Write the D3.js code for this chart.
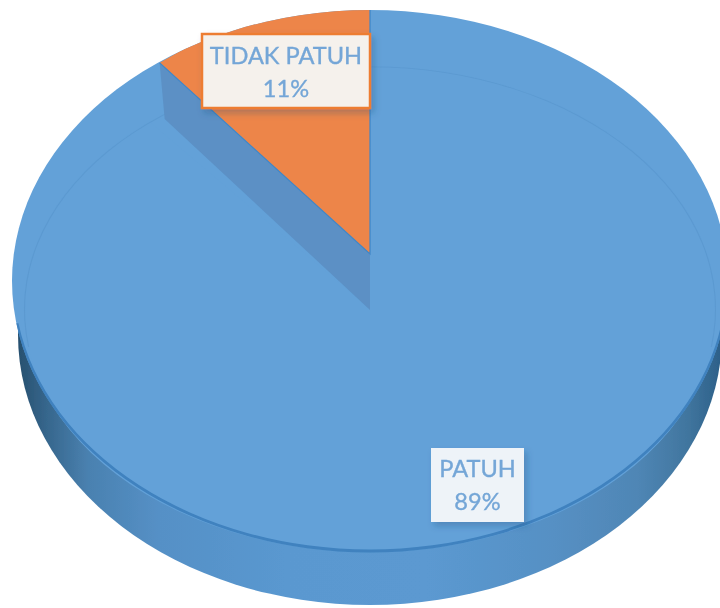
<!DOCTYPE html>
<html>
<head>
<meta charset="utf-8">
<script src="https://cdn.jsdelivr.net/npm/d3@7/dist/d3.min.js"></script>
<style>
html,body{margin:0;padding:0;background:#fff;overflow:hidden}
svg{display:block}
text{font-family:Lato,"Open Sans",sans-serif;font-size:23.6px;text-anchor:middle;stroke:#74a6d7;stroke-width:0.35px}
</style>
</head>
<body>
<svg id="c" width="720" height="608"></svg>
<script>
const categories = ["PATUH", "TIDAK PATUH"];
const values = [89, 11];
const colors = ["#63a1d8", "#ed8549"];

const faceG   = {cx:370, cy:281, rx:358, ry:271};
const sideG   = {cx:370, cy:335, rx:352, ry:270};
const innerG  = {cx:370, cy:309, rx:346, ry:243};
const recessG = {cx:370, cy:254, rx:330, ry:248};
const wallDepth = 56, wallInset = 5;

const svg = d3.select("#c");
const defs = svg.append("defs");

const grad = defs.append("linearGradient").attr("id","side")
  .attr("x1",0).attr("x2",1).attr("y1",0).attr("y2",0);
[[0,"#27506f"],[0.04,"#36668c"],[0.1,"#4a81b0"],[0.2,"#5590c6"],[0.38,"#5a98d0"],[0.58,"#5b99d1"],[0.76,"#5690c4"],[0.88,"#4f86b5"],[0.95,"#41769f"],[1,"#2c5f88"]]
  .forEach(([o,c])=>grad.append("stop").attr("offset",o).attr("stop-color",c));

defs.append("clipPath").attr("id","faceClip").append("ellipse")
  .attr("cx",faceG.cx).attr("cy",faceG.cy).attr("rx",faceG.rx).attr("ry",faceG.ry);

const shadow = defs.append("filter").attr("id","shadow")
  .attr("x","-20%").attr("y","-20%").attr("width","140%").attr("height","150%");
shadow.append("feDropShadow").attr("dx",3).attr("dy",4).attr("stdDeviation",3)
  .attr("flood-color","#1f4e79").attr("flood-opacity",0.3);
const soft = defs.append("filter").attr("id","soft");
soft.append("feGaussianBlur").attr("stdDeviation",0.55);

const pie = d3.pie().sort(null).value(d=>d)
  .startAngle(0).endAngle(2*Math.PI);
const arcs = pie(values);
const unit = d3.arc().innerRadius(0).outerRadius(1);
const ring = d3.arc().innerRadius(0.9972).outerRadius(1);
const edge = d3.arc().innerRadius(0.9945).outerRadius(1);
const place = g => `translate(${g.cx},${g.cy}) scale(${g.rx},${g.ry})`;
const full = {startAngle:0,endAngle:2*Math.PI};
const front = {startAngle:Math.PI*0.55,endAngle:Math.PI*1.45};
const onEllipse = (g,a) => [g.cx + g.rx*Math.sin(a), g.cy - g.ry*Math.cos(a)];

const root = svg.append("g").attr("filter","url(#soft)");

// side of the disc
root.append("path").attr("d",unit(full)).attr("transform",place(sideG)).attr("fill","url(#side)");
// top face
root.append("path").attr("d",unit(full)).attr("transform",place(faceG)).attr("fill",colors[0]);
// PATUH slice on the raised surface
root.append("path").attr("d",unit(arcs[0])).attr("transform",place(innerG)).attr("fill",colors[0]);
root.append("path").attr("d",ring({startAngle:-Math.PI*0.55,endAngle:Math.PI*0.55})).attr("transform",place(innerG)).attr("fill","#5b99d0");
root.append("path").attr("d",edge(front)).attr("transform",place(faceG)).attr("fill","#3f82bf");

// TIDAK PATUH recessed slice
const clipped = root.append("g").attr("clip-path","url(#faceClip)");
clipped.append("path").attr("d",unit(arcs[1])).attr("transform",place(recessG)).attr("fill",colors[1]);

// recess wall
const a = arcs[1].startAngle;
const corner = onEllipse(recessG,a);
const apex = [recessG.cx, recessG.cy];
root.append("path")
  .attr("d", d3.line()([corner, apex, [apex[0],apex[1]+wallDepth], [corner[0]+wallInset,corner[1]+wallDepth]])+"Z")
  .attr("fill","#5b90c5");
root.append("path").attr("d", d3.line()([corner, apex, [apex[0],faceG.cy-faceG.ry]]))
  .attr("fill","none").attr("stroke","#3f86c8").attr("stroke-width",1.2);

// labels
const boxes = [
  {x:431,y:448,w:93,h:74,fill:"#eef3f8",stroke:"none",b1:477,b2:510},
  {x:202,y:34,w:168,h:74,fill:"#f5f1ec",stroke:"#ed7d31",b1:64,b2:97}
];
const labelG = svg.append("g");
categories.forEach((name,i)=>{
  const b = boxes[i];
  labelG.append("rect").attr("x",b.x).attr("y",b.y).attr("width",b.w).attr("height",b.h)
    .attr("fill",b.fill).attr("stroke",b.stroke).attr("stroke-width",2.5).attr("filter","url(#shadow)");
  const tx = labelG.append("g").attr("filter","url(#soft)").attr("fill","#74a6d7");
  const mid = b.x+b.w/2;
  tx.append("text").attr("x",mid).attr("y",b.b1).text(name);
  tx.append("text").attr("x",mid).attr("y",b.b2).text(values[i]+"%");
});
</script>
</body>
</html>
